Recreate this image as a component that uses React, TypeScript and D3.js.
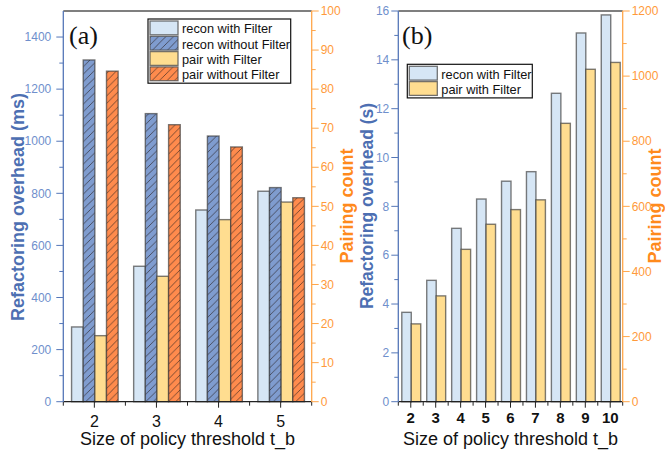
import React from "react";
import * as d3 from "d3";

const catsA = [2, 3, 4, 5];
const reconWithA = [287, 520, 736, 808];
const reconWithoutA = [1312, 1106, 1020, 822];
const pairWithA = [16.9, 32.1, 46.6, 51.1];
const pairWithoutA = [84.6, 70.9, 65.2, 52.2];

const catsB = [2, 3, 4, 5, 6, 7, 8, 9, 10];
const reconWithB = [3.66, 4.97, 7.1, 8.3, 9.03, 9.42, 12.63, 15.1, 15.84];
const pairWithB = [239, 325, 468, 545, 590, 620, 855, 1021, 1042];

const ticksLeftA = [0, 200, 400, 600, 800, 1000, 1200, 1400];
const ticksRightA = [0, 10, 20, 30, 40, 50, 60, 70, 80, 90, 100];
const ticksLeftB = [0, 2, 4, 6, 8, 10, 12, 14, 16];
const ticksRightB = [0, 200, 400, 600, 800, 1000, 1200];

const C = {
  lightBlue: "#d6e6f5",
  blue: "#7f9ccf",
  yellow: "#ffdd90",
  orange: "#ff8b4d",
  axisBlue: "#5577b8",
  tickBlue: "#6f8fcc",
  titleBlue: "#4d6fb2",
  axisOrange: "#ffa64a",
  tickOrange: "#ff9a3a",
  titleOrange: "#ff8a1c",
  barStroke: "rgba(55,55,55,0.65)",
};

const FONT = "Arial, 'Liberation Sans', Helvetica, sans-serif";

function Panel(props: any) {
  const { x0, x1, yTop, yBot, xDomain, yl, yr, cats, series, ticksL, ticksR, minorL, minorR, boldX, xFont, xLabelDy, groupFrac, label, labelX, lblOffL } = props;
  const x = d3.scaleLinear().domain(xDomain).range([x0, x1]);
  const yL = d3.scaleLinear().domain(yl).range([yBot, yTop]);
  const yR = d3.scaleLinear().domain(yr).range([yBot, yTop]);
  const catW = x(1) - x(0);
  const bw = (catW * groupFrac) / series.length;
  const halfTicks: number[] = [];
  for (let v = xDomain[0]; v <= xDomain[1] + 1e-9; v += 0.5) halfTicks.push(v);
  return (
    <g>
      {cats.map((c: number, i: number) =>
        series.map((s: any, j: number) => {
          const sc = s.axis === "L" ? yL : yR;
          const bx = x(c) - (bw * series.length) / 2 + j * bw + 0.5;
          const v = s.values[i];
          return (
            <rect
              key={`${i}-${j}`}
              x={bx}
              y={sc(v)}
              width={bw}
              height={yBot - sc(v)}
              fill={s.fill}
              stroke={C.barStroke}
              strokeWidth={1.4}
            />
          );
        })
      )}
      <line x1={x0} x2={x1} y1={yTop} y2={yTop} stroke="#000" strokeWidth={1.2} />
      <line x1={x0} x2={x1} y1={yBot} y2={yBot} stroke="#222" strokeWidth={1.2} />
      {halfTicks.map((t, i) => (
        <line key={i} x1={x(t)} x2={x(t)} y1={yBot} y2={yBot + (Number.isInteger(t) ? 6 : 4)} stroke="#222" strokeWidth={1} />
      ))}
      {cats.map((c: number) => (
        <text key={c} x={x(c)} y={yBot + xLabelDy} textAnchor="middle" fontFamily={FONT} fontSize={xFont} fontWeight={boldX ? "bold" : "normal"} fill="#111">
          {c}
        </text>
      ))}
      <line x1={x0} x2={x0} y1={yTop} y2={yBot} stroke={C.axisBlue} strokeWidth={1.3} />
      {minorL.map((t: number, i: number) => (
        <line key={i} x1={x0 - 4} x2={x0} y1={yL(t)} y2={yL(t)} stroke={C.axisBlue} strokeWidth={1} />
      ))}
      {ticksL.map((t: number) => (
        <g key={t}>
          <line x1={x0 - 7} x2={x0} y1={yL(t)} y2={yL(t)} stroke={C.axisBlue} strokeWidth={1} />
          <text x={x0 - lblOffL} y={yL(t)} dy="0.35em" textAnchor="end" fontFamily={FONT} fontSize={12} fill={C.tickBlue}>
            {t}
          </text>
        </g>
      ))}
      <line x1={x1} x2={x1} y1={yTop} y2={yBot} stroke={C.axisOrange} strokeWidth={1.3} />
      {minorR.map((t: number, i: number) => (
        <line key={i} x1={x1} x2={x1 + 4} y1={yR(t)} y2={yR(t)} stroke={C.axisOrange} strokeWidth={1} />
      ))}
      {ticksR.map((t: number) => (
        <g key={t}>
          <line x1={x1} x2={x1 + 7} y1={yR(t)} y2={yR(t)} stroke={C.axisOrange} strokeWidth={1} />
          <text x={x1 + 9} y={yR(t)} dy="0.35em" textAnchor="start" fontFamily={FONT} fontSize={12} fill={C.tickOrange}>
            {t}
          </text>
        </g>
      ))}
      <text x={labelX} y={44} fontFamily="'Liberation Serif', 'Times New Roman', serif" fontSize={26} fill="#111">
        {label}
      </text>
      <text x={(x0 + x1) / 2} y={yBot + 43.5} textAnchor="middle" fontFamily={FONT} fontSize={18} fill="#111">
        Size of policy threshold t_b
      </text>
    </g>
  );
}

function Legend(props: any) {
  const { x, y, w, items, rowH } = props;
  const h = items.length * rowH + 3;
  return (
    <g>
      <rect x={x} y={y} width={w} height={h} fill="#fff" stroke="#111" strokeWidth={1.2} />
      {items.map((it: any, i: number) => (
        <g key={i}>
          <rect x={x + 2} y={y + 2 + i * rowH} width={28} height={rowH - 1.5} fill={it.fill} stroke="rgba(80,80,80,0.8)" strokeWidth={1.3} />
          <text x={x + 34} y={y + 2 + i * rowH + rowH / 2} dy="0.36em" fontFamily={FONT} fontSize={12.8} fill="#111">
            {it.name}
          </text>
        </g>
      ))}
    </g>
  );
}

export default function App() {
  const yTop = 11;
  const yBot = 401.7;
  const minorLA = d3.range(100, 1500, 200);
  const minorRA = d3.range(5, 100, 10);
  const minorLB = d3.range(1, 16, 2);
  const minorRB = d3.range(100, 1200, 200);
  const seriesA = [
    { values: reconWithA, axis: "L", fill: C.lightBlue },
    { values: reconWithoutA, axis: "L", fill: "url(#hatchBlue)" },
    { values: pairWithA, axis: "R", fill: C.yellow },
    { values: pairWithoutA, axis: "R", fill: "url(#hatchOrange)" },
  ];
  const seriesB = [
    { values: reconWithB, axis: "L", fill: C.lightBlue },
    { values: pairWithB, axis: "R", fill: C.yellow },
  ];
  const P = 7.5;
  const hatchPath = `M-1,1 l2,-2 M0,${P} l${P},-${P} M${P - 1},${P + 1} l2,-2`;
  return (
    <svg width={665} height={452} style={{ position: "absolute", left: 0, top: 0, background: "#fff" }}>
      <defs>
        <pattern id="hatchBlue" patternUnits="userSpaceOnUse" width={P} height={P}>
          <rect width={P} height={P} fill={C.blue} />
          <path d={hatchPath} stroke="#3c3c48" strokeWidth={0.8} />
        </pattern>
        <pattern id="hatchOrange" patternUnits="userSpaceOnUse" width={P} height={P}>
          <rect width={P} height={P} fill={C.orange} />
          <path d={hatchPath} stroke="#5a3a2a" strokeWidth={0.8} />
        </pattern>
      </defs>
      <rect width={665} height={452} fill="#fff" />
      <Panel
        x0={63.3}
        x1={311.7}
        yTop={yTop}
        yBot={yBot}
        xDomain={[1.5, 5.5]}
        yl={[0, 1500]}
        yr={[0, 100]}
        cats={catsA}
        series={seriesA}
        ticksL={ticksLeftA}
        ticksR={ticksRightA}
        minorL={minorLA}
        minorR={minorRA}
        boldX={false}
        xFont={16}
        xLabelDy={25.5}
        groupFrac={0.75}
        label="(a)"
        labelX={69}
        lblOffL={12}
      />
      <Panel
        x0={398.3}
        x1={622.7}
        yTop={yTop}
        yBot={yBot}
        xDomain={[1.5, 10.5]}
        yl={[0, 16]}
        yr={[0, 1200]}
        cats={catsB}
        series={seriesB}
        ticksL={ticksLeftB}
        ticksR={ticksRightB}
        minorL={minorLB}
        minorR={minorRB}
        boldX={true}
        xFont={15}
        xLabelDy={21.5}
        groupFrac={0.76}
        label="(b)"
        labelX={402}
        lblOffL={9}
      />
      <Legend
        x={148}
        y={19}
        w={142.7}
        rowH={15.3}
        items={[
          { name: "recon with Filter", fill: C.lightBlue },
          { name: "recon without Filter", fill: "url(#hatchBlue)" },
          { name: "pair with Filter", fill: C.yellow },
          { name: "pair without Filter", fill: "url(#hatchOrange)" },
        ]}
      />
      <Legend
        x={407.3}
        y={64.3}
        w={125}
        rowH={15.3}
        items={[
          { name: "recon with Filter", fill: C.lightBlue },
          { name: "pair with Filter", fill: C.yellow },
        ]}
      />
      <text transform="translate(24,207) rotate(-90)" textAnchor="middle" fontFamily={FONT} fontSize={18} fontWeight="bold" fill={C.titleBlue}>
        Refactoring overhead (ms)
      </text>
      <text transform="translate(353,206) rotate(-90)" textAnchor="middle" fontFamily={FONT} fontSize={18} fontWeight="bold" fill={C.titleOrange}>
        Pairing count
      </text>
      <text transform="translate(373,206) rotate(-90)" textAnchor="middle" fontFamily={FONT} fontSize={17.5} fontWeight="bold" fill={C.titleBlue}>
        Refactoring overhead (s)
      </text>
      <text transform="translate(661,206) rotate(-90)" textAnchor="middle" fontFamily={FONT} fontSize={18} fontWeight="bold" fill={C.titleOrange}>
        Pairing count
      </text>
    </svg>
  );
}
